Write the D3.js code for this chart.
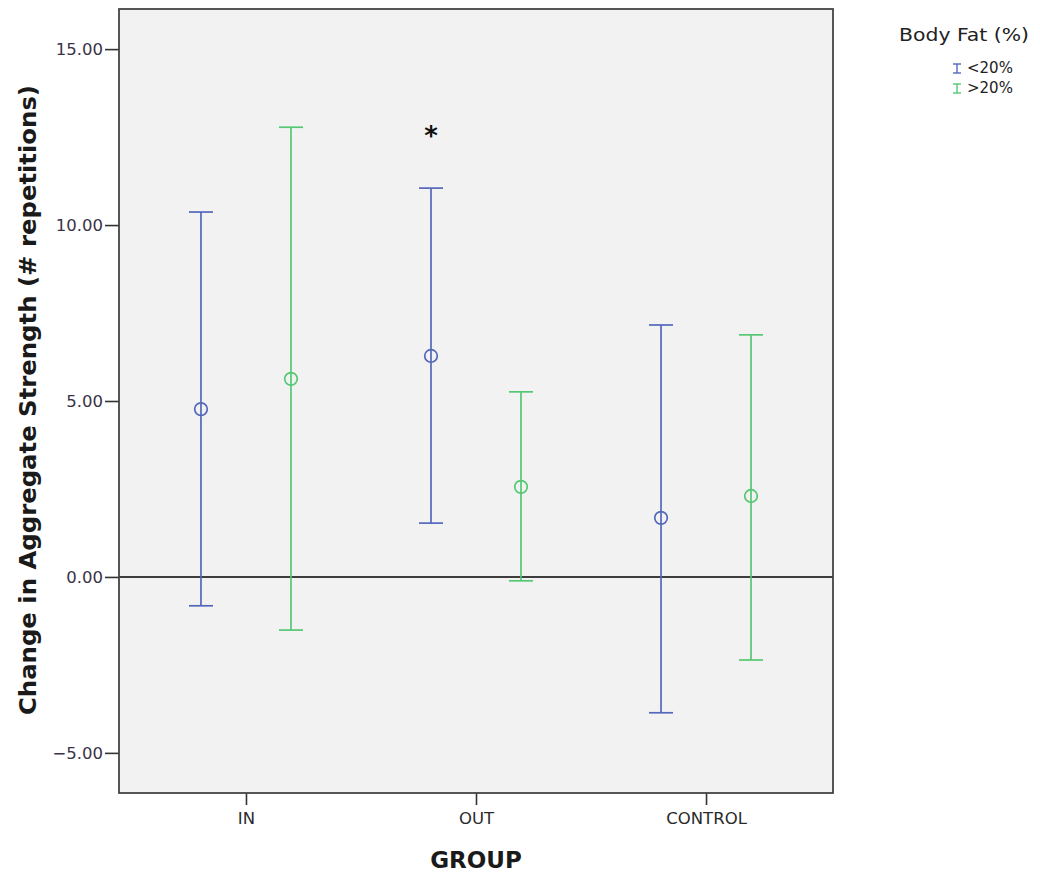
<!DOCTYPE html>
<html><head><meta charset="utf-8">
<script src="https://cdn.jsdelivr.net/npm/d3@7"></script>
<style>body{margin:0;background:#fff;} svg{display:block;}</style>
</head><body>
<svg id="chart" width="1040" height="876"></svg>
<script>
const groups = ["IN", "OUT", "CONTROL"];
const seriesNames = ["<20%", ">20%"];
const seriesColors = ["#5468bb", "#55c873"];
const meanLow20 = [4.77, 6.28, 1.68];
const upperLow20 = [10.37, 11.05, 7.16];
const lowerLow20 = [-0.82, 1.53, -3.86];
const meanHigh20 = [5.63, 2.56, 2.30];
const upperHigh20 = [12.78, 5.26, 6.88];
const lowerHigh20 = [-1.51, -0.11, -2.36];
const yTicks = [-5, 0, 5, 10, 15];
const significant = ["OUT"];

const series = [
  {name: seriesNames[0], color: seriesColors[0], mean: meanLow20, upper: upperLow20, lower: lowerLow20, off: -45},
  {name: seriesNames[1], color: seriesColors[1], mean: meanHigh20, upper: upperHigh20, lower: lowerHigh20, off: 45}
];

const FONT = "DejaVu Sans, sans-serif";
const svg = d3.select("#chart");
const L = 119, R = 833, T = 9, B = 793;
const y = d3.scaleLinear().domain([-6.14, 16.14]).range([B, T]);
const x = d3.scalePoint().domain(groups).range([L, R]).padding(0.552);

svg.append("rect").attr("x", L).attr("y", T).attr("width", R - L).attr("height", B - T)
  .attr("fill", "#f2f2f2");

// zero reference line
svg.append("line").attr("x1", L).attr("x2", R).attr("y1", y(0)).attr("y2", y(0))
  .attr("stroke", "#000").attr("stroke-width", 1.5);

// y axis
const fmt = d3.format(".2f");
const yAxis = d3.axisLeft(y).tickValues(yTicks).tickSize(14).tickSizeOuter(0);
const gy = svg.append("g").attr("transform", `translate(${L},0)`).call(yAxis);
gy.select(".domain").remove();
gy.selectAll(".tick line").attr("stroke", "#333").attr("stroke-width", 1.6);
gy.selectAll(".tick text").attr("font-family", FONT).attr("font-size", 16.5)
  .attr("fill", "#3a3347").attr("x", -16).text(d => fmt(d));

// x axis
const xAxis = d3.axisBottom(x).tickSize(12).tickSizeOuter(0);
const gx = svg.append("g").attr("transform", `translate(0,${B})`).call(xAxis);
gx.select(".domain").remove();
gx.selectAll(".tick line").attr("stroke", "#333").attr("stroke-width", 1.6);
gx.selectAll(".tick text").attr("font-family", FONT).attr("font-size", 16.5)
  .attr("fill", "#2a2a2a").attr("y", 19).attr("dy", "0.71em");

// frame
svg.append("rect").attr("x", L).attr("y", T).attr("width", R - L).attr("height", B - T)
  .attr("fill", "none").attr("stroke", "#444").attr("stroke-width", 1.8);

// error bars
series.forEach(s => {
  const g = svg.append("g").attr("stroke", s.color).attr("fill", "none").attr("stroke-width", 1.7);
  groups.forEach((grp, i) => {
    const cx = x(grp) + s.off;
    g.append("line").attr("x1", cx).attr("x2", cx).attr("y1", y(s.upper[i])).attr("y2", y(s.lower[i]));
    g.append("line").attr("x1", cx - 12).attr("x2", cx + 12).attr("y1", y(s.upper[i])).attr("y2", y(s.upper[i]));
    g.append("line").attr("x1", cx - 12).attr("x2", cx + 12).attr("y1", y(s.lower[i])).attr("y2", y(s.lower[i]));
    g.append("circle").attr("cx", cx).attr("cy", y(s.mean[i])).attr("r", 6.3).attr("fill", "none");
  });
});

// significance asterisk
significant.forEach(grp => {
  const i = groups.indexOf(grp);
  svg.append("text").attr("x", x(grp) + series[0].off).attr("y", y(upperLow20[i]) - 43)
    .attr("text-anchor", "middle").attr("font-family", FONT)
    .attr("font-size", 26).attr("font-weight", "bold").attr("fill", "#111").text("*");
});

// axis titles
svg.append("text").attr("transform", `translate(36,400) rotate(-90)`)
  .attr("text-anchor", "middle").attr("font-family", FONT)
  .attr("font-size", 22.5).attr("font-weight", "bold").attr("fill", "#1a1a1a")
  .attr("textLength", 630).attr("lengthAdjust", "spacingAndGlyphs")
  .text("Change in Aggregate Strength (# repetitions)");
svg.append("text").attr("x", x("OUT")).attr("y", 868).attr("text-anchor", "middle")
  .attr("font-family", FONT).attr("font-size", 23).attr("font-weight", "bold")
  .attr("fill", "#1a1a1a").text("GROUP");

// legend
svg.append("text").attr("x", 1029).attr("y", 41).attr("text-anchor", "end")
  .attr("font-family", FONT).attr("font-size", 17.5).attr("fill", "#222")
  .attr("textLength", 130).attr("lengthAdjust", "spacingAndGlyphs").text("Body Fat (%)");
series.forEach((s, k) => {
  const yy = 73 + k * 20;
  const lg = svg.append("g").attr("stroke", s.color).attr("stroke-width", 1.4);
  lg.append("line").attr("x1", 957).attr("x2", 957).attr("y1", yy - 9).attr("y2", yy);
  lg.append("line").attr("x1", 953).attr("x2", 961).attr("y1", yy - 9).attr("y2", yy - 9);
  lg.append("line").attr("x1", 953).attr("x2", 961).attr("y1", yy).attr("y2", yy);
  svg.append("text").attr("x", 967).attr("y", yy).attr("font-family", FONT)
    .attr("font-size", 15).attr("fill", "#222").text(s.name);
});
</script>
</body></html>
